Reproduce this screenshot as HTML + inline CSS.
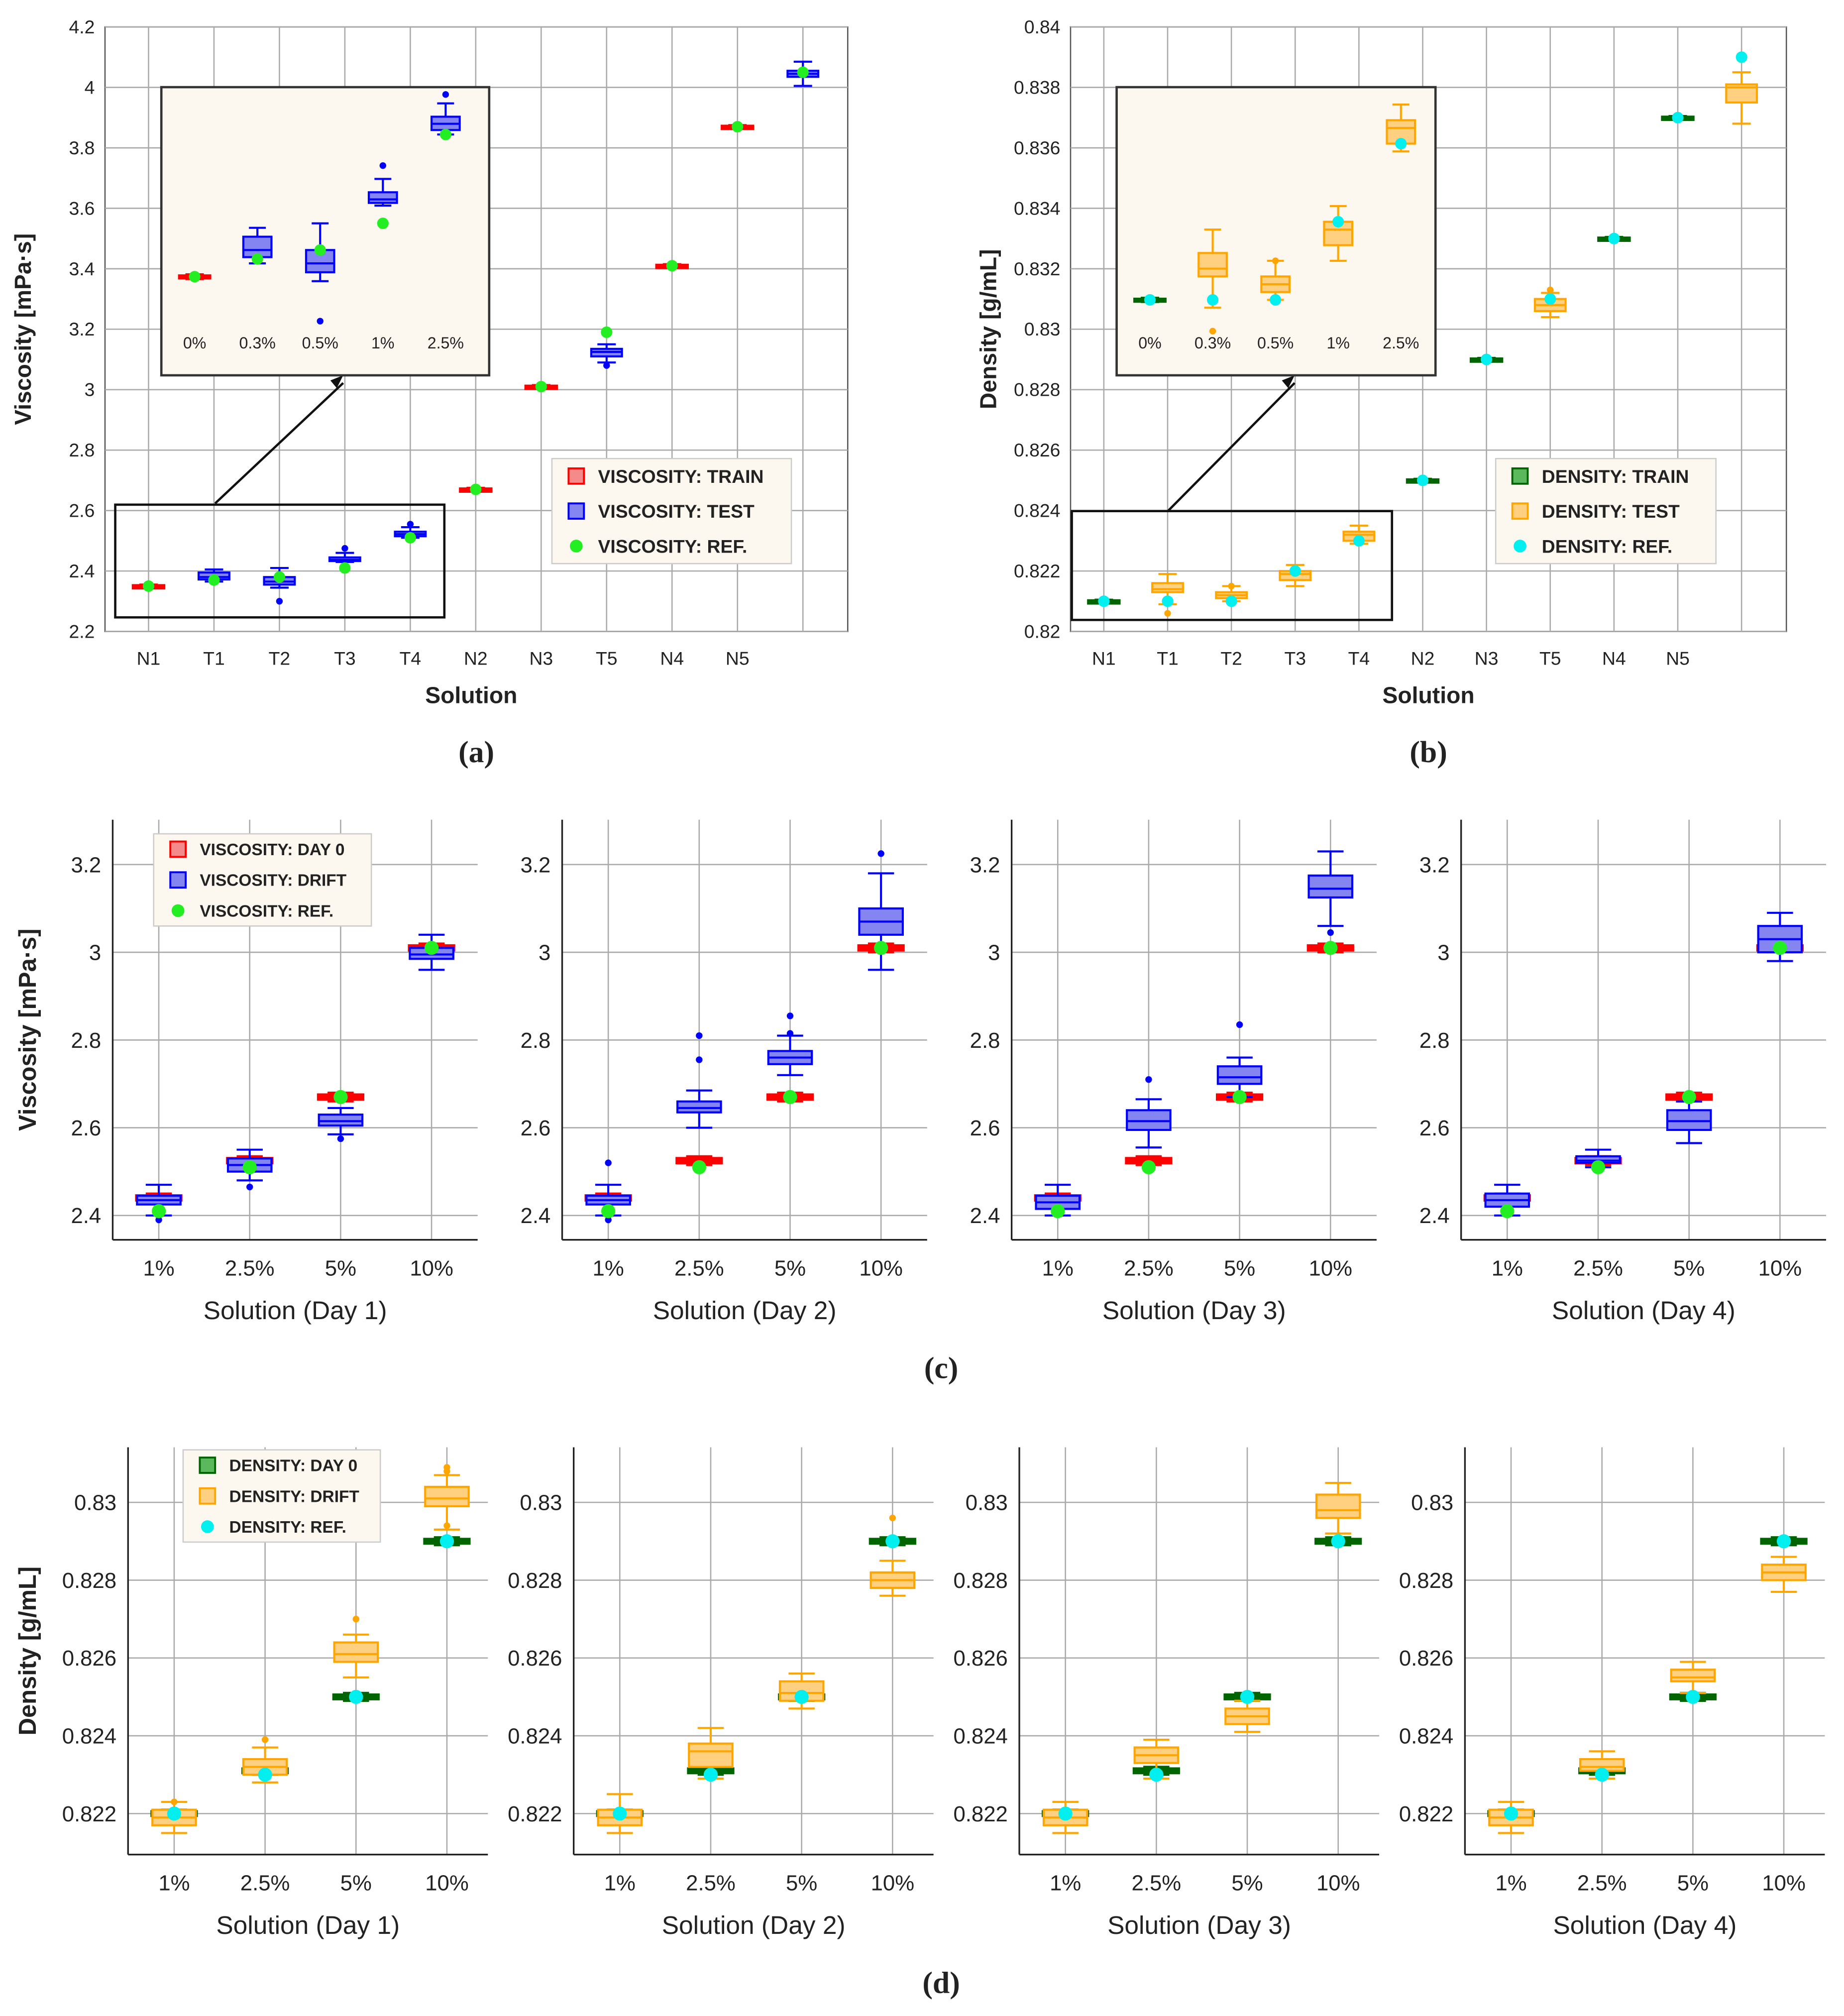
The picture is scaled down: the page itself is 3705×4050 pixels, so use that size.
<!DOCTYPE html>
<html><head><meta charset="utf-8"><style>
html,body{margin:0;padding:0;background:#fff}
svg{display:block;font-family:"Liberation Sans",sans-serif}
</style></head><body>
<svg id="fig" xmlns="http://www.w3.org/2000/svg" width="3705" height="4050" viewBox="0 0 1440 1574"></svg>
<script>
// ---------- DATA ----------
const aCats = ["N1","T1","T2","T3","T4","N2","N3","T5","N4","N5",""];
const aTicks = [2.2,2.4,2.6,2.8,3,3.2,3.4,3.6,3.8,4,4.2];
const aTrainIdx = [0,5,6,8,9];
const aTrain = [2.35,2.67,3.01,3.41,3.87];
const aTestIdx = [1,2,3,4,7,10];
const aTestStats = [[2.365,2.372,2.38,2.395,2.405],[2.345,2.355,2.365,2.38,2.41],[2.43,2.433,2.437,2.445,2.46],[2.51,2.515,2.522,2.53,2.545],[3.09,3.11,3.125,3.135,3.15],[4.005,4.035,4.045,4.055,4.085]];
const aTestOut = [[],[2.30],[2.475],[2.555],[3.08],[]];
const aRef = [2.35,2.37,2.38,2.41,2.51,2.67,3.01,3.19,3.41,3.87,4.05];
const aInsetLabels = ["0%","0.3%","0.5%","1%","2.5%"];
const bTicks = [0.82,0.822,0.824,0.826,0.828,0.83,0.832,0.834,0.836,0.838,0.84];
const bTrain = [0.821,0.825,0.829,0.833,0.837];
const bTestStats = [[0.8209,0.8213,0.8214,0.8216,0.8219],[0.821,0.8211,0.8212,0.8213,0.8215],[0.8215,0.8217,0.8219,0.822,0.8222],[0.8229,0.823,0.8232,0.8233,0.8235],[0.8304,0.8306,0.8308,0.831,0.8312],[0.8368,0.8375,0.838,0.8381,0.8385]];
const bTestOut = [[0.8206],[0.8215],[],[],[0.8313],[]];
const bRef = [0.821,0.821,0.821,0.822,0.823,0.825,0.829,0.831,0.833,0.837,0.839];
const cCats = ["1%","2.5%","5%","10%"];
const cTicks = [2.4,2.6,2.8,3,3.2];
const cDay0 = [2.44,2.525,2.67,3.01];
const cRef = [2.41,2.51,2.67,3.01];
const cDrift = [
 [[2.40,2.425,2.435,2.445,2.47],[2.48,2.50,2.515,2.53,2.55],[2.585,2.605,2.615,2.63,2.645],[2.96,2.985,2.995,3.01,3.04]],
 [[2.40,2.425,2.435,2.445,2.47],[2.60,2.635,2.645,2.66,2.685],[2.72,2.745,2.76,2.775,2.81],[2.96,3.04,3.07,3.10,3.18]],
 [[2.40,2.415,2.43,2.445,2.47],[2.555,2.595,2.615,2.64,2.665],[2.67,2.70,2.715,2.74,2.76],[3.06,3.125,3.145,3.175,3.23]],
 [[2.40,2.42,2.435,2.45,2.47],[2.51,2.52,2.525,2.535,2.55],[2.565,2.595,2.615,2.64,2.66],[2.98,3.00,3.03,3.06,3.09]]];
const cOut = [[[2.39],[2.465],[2.575],[]],[[2.39,2.52],[2.755,2.81],[2.815,2.855],[3.225]],[[],[2.71],[2.835],[3.045]],[[],[],[],[]]];
const dTicks = [0.822,0.824,0.826,0.828,0.83];
const dDay0 = [0.822,0.8231,0.825,0.829];
const dRef = [0.822,0.823,0.825,0.829];
const dDrift = [
 [[0.8215,0.8217,0.8219,0.8221,0.8223],[0.8228,0.823,0.8232,0.8234,0.8237],[0.8255,0.8259,0.8261,0.8264,0.8266],[0.8293,0.8299,0.8301,0.8304,0.8307]],
 [[0.8215,0.8217,0.8219,0.8221,0.8225],[0.8229,0.8232,0.8236,0.8238,0.8242],[0.8247,0.8249,0.8251,0.8254,0.8256],[0.8276,0.8278,0.828,0.8282,0.8285]],
 [[0.8215,0.8217,0.8219,0.8221,0.8223],[0.8229,0.8233,0.8235,0.8237,0.8239],[0.8241,0.8243,0.8245,0.8247,0.8249],[0.8292,0.8296,0.8298,0.8302,0.8305]],
 [[0.8215,0.8217,0.8219,0.8221,0.8223],[0.8229,0.8231,0.8232,0.8234,0.8236],[0.8251,0.8254,0.8255,0.8257,0.8259],[0.8277,0.828,0.8282,0.8284,0.8286]]];
const dOut = [[[0.8223],[0.8239],[0.827],[0.8309,0.8308,0.8294]],[[],[],[],[0.8296]],[[],[],[],[]],[[],[],[],[]]];

// ---------- HELPERS ----------
const NS="http://www.w3.org/2000/svg";
const svg=document.getElementById('fig');
function el(tag,attrs,parent,txt){const e=document.createElementNS(NS,tag);for(const k in attrs)e.setAttribute(k,attrs[k]);if(txt!==undefined)e.textContent=txt;(parent||svg).appendChild(e);return e;}
const COL={red:["#f58a8a","#ff0000"],blue:["#8585f2","#0000ff"],green:["#5cb85c","#006400"],orange:["#ffd080","#ffa500"]};
function drawBox(g,x,w,s,ys,col,sw,outs){
  const [fill,stroke]=COL[col];
  const b=el('g',{},g);
  
  
  el('line',{x1:x,x2:x,y1:ys(s[0]),y2:ys(s[1]),stroke:stroke,'stroke-width':sw},b);
  el('line',{x1:x,x2:x,y1:ys(s[3]),y2:ys(s[4]),stroke:stroke,'stroke-width':sw},b);
  el('line',{x1:x-w*0.3,x2:x+w*0.3,y1:ys(s[0]),y2:ys(s[0]),stroke:stroke,'stroke-width':sw},b);
  el('line',{x1:x-w*0.3,x2:x+w*0.3,y1:ys(s[4]),y2:ys(s[4]),stroke:stroke,'stroke-width':sw},b);
  const y1=ys(s[3]),y2=ys(s[1]);
  el('rect',{x:x-w/2,y:y1,width:w,height:Math.max(y2-y1,2),fill:fill,stroke:stroke,'stroke-width':sw},b);
  el('line',{x1:x-w/2,x2:x+w/2,y1:ys(s[2]),y2:ys(s[2]),stroke:stroke,'stroke-width':sw},b);
  (outs||[]).forEach(o=>el('circle',{cx:x,cy:ys(o),r:2.6,fill:stroke},b));
}
function flat(v,d){return [v-d,v-d*0.5,v,v+d*0.5,v+d];}
function refDot(g,x,y,c,r){const d=el('circle',{cx:x,cy:y,r:r||5,fill:c},g);}
function text(g,x,y,t,size,opt){opt=opt||{};return el('text',Object.assign({x:x,y:y,'font-size':size,'text-anchor':'middle',fill:'#222'},opt),g,t);}
function legend(g,x,y,w,h,items,fs){
  const L=el('g',{},g);
  
  
  el('rect',{x:x,y:y,width:w,height:h,fill:'#fdf8ef',stroke:'#ccc'},L);
  const step=h/items.length;
  items.forEach((it,i)=>{
    const cy=y+step*(i+0.5);
    const e=el('g',{},L);
    
    
    if(it[1]==='dot') el('circle',{cx:x+19,cy:cy,r:5,fill:it[2]},e);
    else el('rect',{x:x+13,y:cy-6,width:12,height:12,fill:COL[it[1]][0],stroke:COL[it[1]][1],'stroke-width':1.5},e);
    el('text',{x:x+36,y:cy+fs*0.36,'font-size':fs,'font-weight':'bold',fill:'#222'},e,it[0]);
  });
}

function topPanel(cfg){
  const g=el('g',{});
  
  
  const X0=cfg.x0,X1=cfg.x1,Y0=21,Y1=493;
  const ys=v=>Y1-(v-cfg.ticks[0])/(cfg.ticks[cfg.ticks.length-1]-cfg.ticks[0])*(Y1-Y0);
  const xs=i=>cfg.c0+i*cfg.dc;
  el('rect',{x:X0,y:Y0,width:X1-X0,height:Y1-Y0,fill:'#fff',stroke:'#555','stroke-width':1},g);
  cfg.ticks.forEach(t=>{el('line',{x1:X0,x2:X1,y1:ys(t),y2:ys(t),stroke:'#aaa','stroke-width':1},g);
    const tl=text(g,X0-8,ys(t)+5,String(t),14.5,{'text-anchor':'end'});});
  aCats.forEach((c,i)=>{el('line',{x1:xs(i),x2:xs(i),y1:Y0,y2:Y1,stroke:'#aaa','stroke-width':1},g);
    if(c){const tl=text(g,xs(i),519,c,14.5);}});
  const ins=cfg.inset;
  el('rect',{x:ins.sx0,y:ins.sy0,width:ins.sx1-ins.sx0,height:ins.sy1-ins.sy0,fill:'none',stroke:'#111','stroke-width':1.8},g);
  el('line',{x1:ins.ax0,y1:ins.ay0,x2:ins.ax1,y2:ins.ay1+6,stroke:'#111','stroke-width':1.8},g);
  el('path',{d:`M${ins.ax1} ${ins.ay1} l-10 4 l5 6 z`,fill:'#111'},g);
  const ib=el('rect',{x:ins.x0,y:68,width:ins.x1-ins.x0,height:225,fill:'#fdf8ef',stroke:'#333','stroke-width':1.8},g);
  
  cfg.trainIdx.forEach((ci,k)=>drawBox(g,xs(ci),24,flat(cfg.train[k],cfg.tEps),ys,cfg.trainCol,2.2,[]));
  cfg.testIdx.forEach((ci,k)=>drawBox(g,xs(ci),24,cfg.testStats[k],ys,cfg.testCol,1.6,cfg.testOut[k]));
  cfg.ref.forEach((v,i)=>refDot(g,xs(i),ys(v),cfg.refCol,4.5));
  const iy=v=>ins.yb-(v-ins.vb)*ins.k;
  const ix=i=>ins.x0+26+i*49;
  drawBox(g,ix(0),24,flat(cfg.train[0],cfg.tEps*0.6),iy,cfg.trainCol,2,[]);
  for(let k=0;k<4;k++) drawBox(g,ix(k+1),22,cfg.testStats[k],iy,cfg.testCol,1.6,cfg.testOut[k]);
  [0,1,2,3,4].forEach(i=>refDot(g,ix(i),iy(cfg.ref[i]),cfg.refCol,4.5));
  aInsetLabels.forEach((l,i)=>text(g,ix(i),272,l,12.5));
  legend(g,cfg.lx,358,cfg.lw,82,cfg.leg,14.5);
  const yt=text(g,0,0,cfg.ylab,18,{'font-weight':'bold',transform:`translate(${X0-58},${257}) rotate(-90)`});
  
  const xt=text(g,(X0+X1)/2-(cfg.name==='panel-a'?4:0),549,'Solution',18,{'font-weight':'bold'});
  
  text(g,(X0+X1)/2,595,cfg.tag,24,{'font-family':'Liberation Serif','font-weight':'bold'});
}
topPanel({name:'panel-a',x0:82,x1:662,c0:116,dc:51.1,ticks:aTicks,trainIdx:aTrainIdx,train:aTrain,tEps:0.004,testIdx:aTestIdx,testStats:aTestStats,testOut:aTestOut,ref:aRef,trainCol:'red',testCol:'blue',refCol:'#22ee22',
  inset:{sx0:90,sx1:347,sy0:394,sy1:482,ax0:168,ay0:393,ax1:268,ay1:293,x0:126,x1:382,yb:216,vb:2.35,k:694},
  lx:431,lw:187,leg:[['VISCOSITY: TRAIN','red'],['VISCOSITY: TEST','blue'],['VISCOSITY: REF.','dot','#22ee22']],ylab:'Viscosity [mPa·s]',tag:'(a)'});
topPanel({name:'panel-b',x0:836,x1:1395,c0:862,dc:49.8,ticks:bTicks,trainIdx:aTrainIdx,train:bTrain,tEps:0.00004,testIdx:aTestIdx,testStats:bTestStats,testOut:bTestOut,ref:bRef,trainCol:'green',testCol:'orange',refCol:'#00f0f0',
  inset:{sx0:837,sx1:1087,sy0:399,sy1:484,ax0:912,ay0:399,ax1:1011,ay1:293,x0:872,x1:1121,yb:228,vb:0.8211,k:61000},
  lx:1168,lw:172,leg:[['DENSITY: TRAIN','green'],['DENSITY: TEST','orange'],['DENSITY: REF.','dot','#00f0f0']],ylab:'Density [g/mL]',tag:'(b)'});

function smallPanels(cfg){
  const g=el('g',{});
  
  
  const ys=v=>cfg.ya-(v-cfg.va)/(cfg.vb-cfg.va)*(cfg.ya-cfg.yb);
  for(let d=0;d<4;d++){
    const sg=el('g',{},g);
    
    
    const X0=cfg.x0+d*cfg.dx,X1=X0+cfg.w;
    const xs=i=>X0+cfg.c0+i*71;
    cfg.ticks.forEach(t=>{el('line',{x1:X0,x2:X1,y1:ys(t),y2:ys(t),stroke:'#aaa'},sg);
      const tl=text(sg,X0-9,ys(t)+6,String(t),17,{'text-anchor':'end'});});
    cCats.forEach((c,i)=>{el('line',{x1:xs(i),x2:xs(i),y1:cfg.top,y2:cfg.bot,stroke:'#aaa'},sg);
      const tl=text(sg,xs(i),cfg.bot+28,c,17);});
    el('line',{x1:X0,x2:X0,y1:cfg.top,y2:cfg.bot,stroke:'#222','stroke-width':1.3},sg);
    el('line',{x1:X0,x2:X1,y1:cfg.bot,y2:cfg.bot,stroke:'#222','stroke-width':1.3},sg);
    cfg.day0.forEach((v,i)=>drawBox(sg,xs(i),34,flat(v,cfg.eps),ys,cfg.c0col,3,[]));
    cfg.drift[d].forEach((s,i)=>drawBox(sg,xs(i),34,s,ys,cfg.c1col,1.6,cfg.outs[d][i]));
    cfg.ref.forEach((v,i)=>refDot(sg,xs(i),ys(v),cfg.refCol,5.5));
    const xt=text(sg,(X0+X1)/2,cfg.bot+62,'Solution (Day '+(d+1)+')',20);
    
  }
  legend(g,cfg.lx,cfg.ly,cfg.lw,72,cfg.leg,13);
  const yt=text(g,0,0,cfg.ylab,19,{'font-weight':'bold',transform:`translate(28,${(cfg.top+cfg.bot)/2}) rotate(-90)`});
  
  text(g,735,cfg.bot+108,cfg.tag,24,{'font-family':'Liberation Serif','font-weight':'bold'});
}
smallPanels({name:'panel-c',x0:88,dx:351,w:285,c0:36,top:640,bot:968,ya:949,yb:675,va:2.4,vb:3.2,ticks:cTicks,day0:cDay0,ref:cRef,drift:cDrift,outs:cOut,eps:0.008,c0col:'red',c1col:'blue',refCol:'#22ee22',
  lx:120,ly:651,lw:170,leg:[['VISCOSITY: DAY 0','red'],['VISCOSITY: DRIFT','blue'],['VISCOSITY: REF.','dot','#22ee22']],ylab:'Viscosity [mPa·s]',tag:'(c)'});
smallPanels({name:'panel-d',x0:100,dx:348,w:281,c0:36,top:1130,bot:1448,ya:1416,yb:1173,va:0.822,vb:0.83,ticks:dTicks,day0:dDay0,ref:dRef,drift:dDrift,outs:dOut,eps:0.00008,c0col:'green',c1col:'orange',refCol:'#00f0f0',
  lx:143,ly:1132,lw:154,leg:[['DENSITY: DAY 0','green'],['DENSITY: DRIFT','orange'],['DENSITY: REF.','dot','#00f0f0']],ylab:'Density [g/mL]',tag:'(d)'});
</script>
</body></html>
